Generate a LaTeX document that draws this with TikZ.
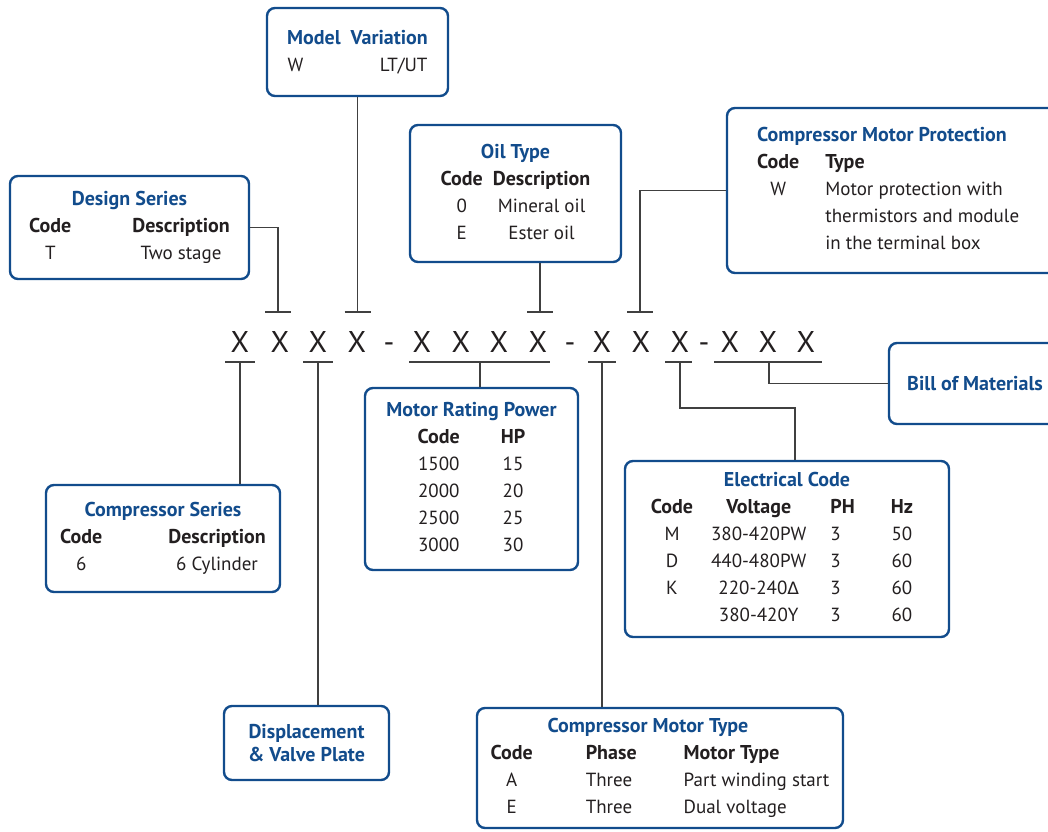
\documentclass[tikz,border=0pt]{standalone}
\usepackage{fontspec}
\setmainfont{PT Sans}
\newfontfamily\deltafont{DejaVu Sans}
\usetikzlibrary{calc}

\definecolor{codeblue}{RGB}{18,76,140}
\definecolor{codetext}{RGB}{35,31,32}
\definecolor{codeline}{RGB}{64,64,64}

\tikzset{
    codebox/.style={draw=codeblue, line width=2.4pt, rounded corners=8pt, fill=white,
        inner sep=0pt, align=center, text=codetext, font=\fontsize{19}{27}\selectfont},
    boxtext/.style={inner sep=0pt, text=codetext, font=\fontsize{19}{27}\selectfont},
    link/.style={draw=codeline, line width=1.2pt},
    digit/.style={inner sep=0pt, anchor=base, text=codetext, font=\fontsize{30}{30}\selectfont},
}
\newcommand{\ttl}[1]{{\fontsize{20}{27}\selectfont\bfseries\color{codeblue}#1}}
\newcommand{\hd}[1]{{\fontsize{20}{27}\selectfont\bfseries #1}}
\newcommand{\ttlrow}[2]{\multicolumn{#1}{c}{\makebox[0pt]{\ttl{#2}}}}

\begin{document}
\begin{tikzpicture}[x=1pt, y=-1pt]
        \useasboundingbox (0,0) rectangle (1048,831);
        \clip (0,0) rectangle (1048,831);

        % Model code characters
        \node[digit] (c1) at (240,352) {X};
        \node[digit] (c2) at (280,352) {X};
        \node[digit] (c3) at (318,352) {X};
        \node[digit] (c4) at (357,352) {X};
        \node[digit] (d1) at (389,352) {-};
        \node[digit] (c5) at (422,352) {X};
        \node[digit] (c6) at (461,352) {X};
        \node[digit] (c7) at (499,352) {X};
        \node[digit] (c8) at (538,352) {X};
        \node[digit] (d2) at (570,352) {-};
        \node[digit] (c9) at (602,352) {X};
        \node[digit] (c10) at (641,352) {X};
        \node[digit] (c11) at (680,352) {X};
        \node[digit] (d3) at (704,352) {-};
        \node[digit] (c12) at (730,352) {X};
        \node[digit] (c13) at (768,352) {X};
        \node[digit] (c14) at (806,352) {X};

        % Boxes above the code
        \node[codebox, minimum width=181, minimum height=88] (model) at (357.5,52) {%
            \ttl{Model\enspace Variation}\\
            \makebox[140pt]{W\hfill LT/UT}};

        \node[codebox, minimum width=239, minimum height=103] (design) at (129.5,227.5) {%
            \begin{tabular}{@{}c@{\hspace{61pt}}c@{}}
                \ttlrow{2}{Design Series}\\
                \hd{Code} & \hd{Description}\\
                T & Two stage
            \end{tabular}};

        \node[codebox, minimum width=211, minimum height=137] (oil) at (515.5,193.5) {%
            \begin{tabular}{@{}c@{\hspace{10pt}}c@{}}
                \ttlrow{2}{Oil Type}\\
                \hd{Code} & \hd{Description}\\
                0 & Mineral oil\\
                E & Ester oil
            \end{tabular}};

        \node[codebox, minimum width=343, minimum height=165] (cmp) at (898.5,190.5) {};
        \node[boxtext, anchor=west] (cmptxt) at (757,190.5) {%
            \begin{tabular}{@{}c@{\hspace{26pt}}l@{}}
                \multicolumn{2}{@{}l}{\ttl{Compressor Motor Protection}}\\
                \hd{Code} & \hd{Type}\\
                W & Motor protection with\\
                  & thermistors and module\\
                  & in the terminal box
            \end{tabular}};

        % Boxes below the code
        \node[codebox, minimum width=181, minimum height=81] (bill) at (979.5,383.5) {};
        \node[boxtext, anchor=west] (billtxt) at (907,383.5) {\ttl{Bill of Materials}};

        \node[codebox, minimum width=213, minimum height=182] (power) at (471.5,479) {%
            \begin{tabular}{@{}c@{\hspace{41pt}}c@{}}
                \ttlrow{2}{Motor Rating Power}\\
                \hd{Code} & \hd{HP}\\
                1500 & 15\\
                2000 & 20\\
                2500 & 25\\
                3000 & 30
            \end{tabular}};

        \node[codebox, minimum width=234, minimum height=107] (series) at (163,538.5) {%
            \begin{tabular}{@{}c@{\hspace{66pt}}c@{}}
                \ttlrow{2}{Compressor Series}\\
                \hd{Code} & \hd{Description}\\
                6 & 6 Cylinder
            \end{tabular}};

        \node[codebox, minimum width=324, minimum height=176] (elec) at (787,549) {%
            \begin{tabular}{@{}c@{\hspace{18pt}}c@{\hspace{24pt}}l@{\hspace{36pt}}c@{\hspace{10pt}}}
                \ttlrow{4}{Electrical Code}\\
                \hd{Code} & \hd{Voltage} & \hd{PH} & \hd{Hz}\\
                M & 380-420PW & 3 & 50\\
                D & 440-480PW & 3 & 60\\
                K & 220-240{\deltafont\fontsize{17}{27}\selectfont Δ} & 3 & 60\\
                  & 380-420Y & 3 & 60
            \end{tabular}};

        \node[codebox, minimum width=165, minimum height=74,
              font=\fontsize{20}{23}\selectfont] (displ) at (306.5,743) {%
            \ttl{Displacement}\\
            \ttl{\& Valve Plate}};

        \node[codebox, minimum width=366, minimum height=120] (cmtype) at (660,768) {%
            \begin{tabular}{@{}c@{\hspace{53pt}}l@{\hspace{47pt}}l@{}}
                \ttlrow{3}{Compressor Motor Type\hspace{24pt}}\\
                \hd{Code} & \hd{Phase} & \hd{Motor Type}\\
                A & Three & Part winding start\\
                E & Three & Dual voltage
            \end{tabular}};

        % T-bars above the code
        \coordinate (t2) at (278,312);
        \coordinate (t4) at (model.south |- 0,312);
        \coordinate (t8) at (540,312);
        \coordinate (t10) at (640,312);
        \foreach \t in {t2,t4,t8,t10}
            \draw[link] ([xshift=-13pt]\t) -- ([xshift=13pt]\t);

        \draw[link] (design.east) -| (t2);
        \draw[link] (model.south) -- (t4);
        \draw[link] (t8 |- oil.south) -- (t8);
        \draw[link] (cmp.west) -| (t10);

        % Underlines below the code
        \coordinate (u1) at ($(c1.base)+(0,10)$);
        \coordinate (u3) at ($(c3.base)+(0,10)$);
        \coordinate (u58) at ($(c5.base)!0.5!(c8.base)+(0,10)$);
        \coordinate (u9) at ($(c9.base)+(0,10)$);
        \coordinate (u11) at ($(c11.base)+(0,10)$);
        \coordinate (u1214) at ($(c13.base)+(1,10)$);
        \coordinate (e1) at (795,408);

        \draw[link] ($(u1)+(-15,0)$) -- ($(u1)+(15,0)$);
        \draw[link] ($(u3)+(-15,0)$) -- ($(u3)+(15,0)$);
        \draw[link] ($(c5.base)+(-13,10)$) -- ($(c8.base)+(12,10)$);
        \draw[link] ($(u9)+(-14,0)$) -- ($(u9)+(14,0)$);
        \draw[link] ($(u11)+(-15,0)$) -- ($(u11)+(12,0)$);
        \draw[link] ($(c12.base)+(-16,10)$) -- ($(c14.base)+(16,10)$);

        \draw[link] (u1) -- (u1 |- series.north);
        \draw[link] (u3) -- (u3 |- displ.north);
        \draw[link] (u58) -- (u58 |- power.north);
        \draw[link] (u9) -- (u9 |- cmtype.north);
        \draw[link] (u11) |- (e1) -- (e1 |- elec.north);
        \draw[link] (u1214) |- (bill.west);

    \end{tikzpicture}
\end{document}
